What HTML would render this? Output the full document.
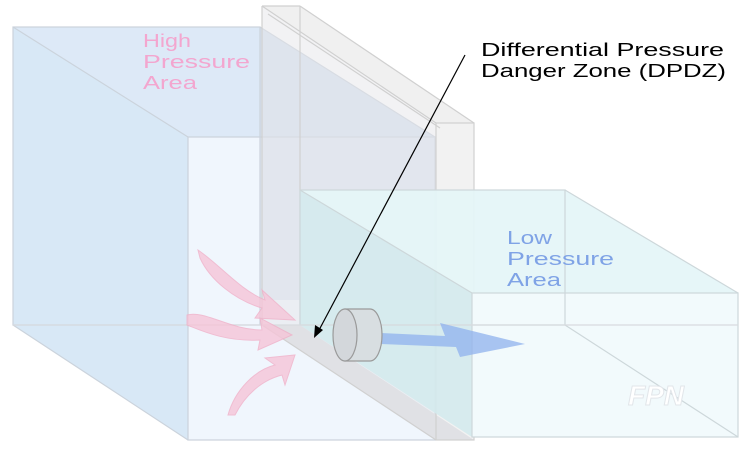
<!DOCTYPE html>
<html><head><style>html,body{margin:0;padding:0;background:#fff}svg{display:block}</style></head><body>
<svg width="750" height="455" viewBox="0 0 750 455" xmlns="http://www.w3.org/2000/svg" font-family="Liberation Sans, sans-serif">
<rect width="750" height="455" fill="#fff"/>
<!-- Left box -->
<polygon points="13,27 260,27 435,137 435,440 188,440 13,325" fill="#e0edf9"/>
<polygon points="13,27 188,137 188,440 13,325" fill="#d8e8f6"/>
<polygon points="13,27 260,27 435,137 188,137" fill="#dde9f7"/>
<rect x="188" y="137" width="247" height="303" fill="#f0f6fd"/>
<polygon points="260,27 435,137 435,300 260,300" fill="#d3deeb" opacity="0.6"/>
<g stroke="#cbd3dc" stroke-width="1.2" fill="none">
<rect x="13" y="27" width="247" height="298"/>
<rect x="188" y="137" width="247" height="303"/>
<line x1="13" y1="27" x2="188" y2="137"/><line x1="13" y1="325" x2="188" y2="440"/>
<line x1="260" y1="27" x2="435" y2="137"/>
</g>
<!-- Wall -->
<polygon points="262,6 300,6 474,123 474,440 436,440 262,325" fill="#e6e6ea" opacity="0.5"/>
<polygon points="262,6 300,6 474,123 436,123" fill="#f0f0f0"/>
<rect x="436" y="123" width="38" height="317" fill="#f2f2f2"/>
<polygon points="262,325 300,325 474,440 436,440" fill="#e0e1e5"/>
<g stroke="#d0d0d0" stroke-width="1.2" fill="none">
<line x1="262" y1="6" x2="300" y2="6"/><line x1="262" y1="6" x2="262" y2="325"/><line x1="300" y1="6" x2="300" y2="325"/>
<line x1="262" y1="6" x2="436" y2="123"/><line x1="300" y1="6" x2="474" y2="123"/><line x1="268" y1="14" x2="440" y2="128"/>
<rect x="436" y="123" width="38" height="317"/>
<line x1="262" y1="325" x2="436" y2="440"/>
</g>
<!-- Right box -->
<polygon points="300,190 565,190 738,293 738,437 472,437 300,325" fill="#dff3f5" opacity="0.75"/>
<polygon points="300,190 565,190 738,293 472,293" fill="#e6f6f8" opacity="0.8"/>
<polygon points="300,190 472,293 472,437 300,325" fill="#cfe6ea" opacity="0.6"/>
<rect x="472" y="293" width="266" height="144" fill="#f2fafc"/>
<g stroke="#cdd7da" stroke-width="1.2" fill="none">
<rect x="300" y="190" width="265" height="135"/>
<rect x="472" y="293" width="266" height="144"/>
<line x1="300" y1="190" x2="472" y2="293"/><line x1="565" y1="190" x2="738" y2="293"/>
<line x1="565" y1="325" x2="738" y2="437"/>
<line x1="13" y1="325" x2="738" y2="325" stroke="#d8dbdf"/>
</g>
<!-- pink arrows -->
<g fill="#f6c5d8" stroke="#f0b0c8" stroke-width="1" opacity="0.8">
<path d="M198,250 C220,265 240,290 265,300 L262,290 L295,320 L255,318 L262,308 C235,300 210,280 200,258 Z"/>
<path d="M187,315 C205,310 230,330 262,330 L260,318 L292,335 L258,350 L260,340 C225,342 200,330 187,325 Z"/>
<path d="M228,415 C235,390 255,370 275,365 L265,358 L295,355 L285,385 L282,375 C262,380 245,395 235,415 Z"/>
</g>
<!-- blue arrow -->
<polygon points="358,332 445,336 440,323 525,344 460,357 456,347 358,343" fill="#8fb2ee" opacity="0.75"/>
<!-- cylinder -->
<g stroke="#9a9a9a" stroke-width="1.2">
<path d="M345,309 L370,309 A12,26 0 0 1 370,361 L345,361 Z" fill="#d8dee1"/>
<ellipse cx="345" cy="335" rx="12" ry="26" fill="#d3d7db"/>
</g>
<!-- pointer -->
<line x1="465" y1="55" x2="318" y2="332" stroke="#000" stroke-width="1.2"/>
<polygon points="314,338 315,325 323,330" fill="#000"/>
<!-- text -->
<g font-size="18" fill="#f3a6cf"><text x="143" y="47" textLength="48" lengthAdjust="spacingAndGlyphs">High</text><text x="143" y="68" textLength="107" lengthAdjust="spacingAndGlyphs">Pressure</text><text x="143" y="89" textLength="54" lengthAdjust="spacingAndGlyphs">Area</text></g>
<g font-size="18" fill="#000"><text x="481" y="56" textLength="243" lengthAdjust="spacingAndGlyphs">Differential Pressure</text><text x="481" y="77" textLength="245" lengthAdjust="spacingAndGlyphs">Danger Zone (DPDZ)</text></g>
<g font-size="18" fill="#7fa3e6"><text x="507" y="244" textLength="45" lengthAdjust="spacingAndGlyphs">Low</text><text x="507" y="265" textLength="107" lengthAdjust="spacingAndGlyphs">Pressure</text><text x="507" y="286" textLength="54" lengthAdjust="spacingAndGlyphs">Area</text></g>
<text x="628" y="405" font-size="28" font-style="italic" font-weight="bold" fill="#fff" stroke="#e2e6ea" stroke-width="1">FPN</text>
</svg>
</body></html>
